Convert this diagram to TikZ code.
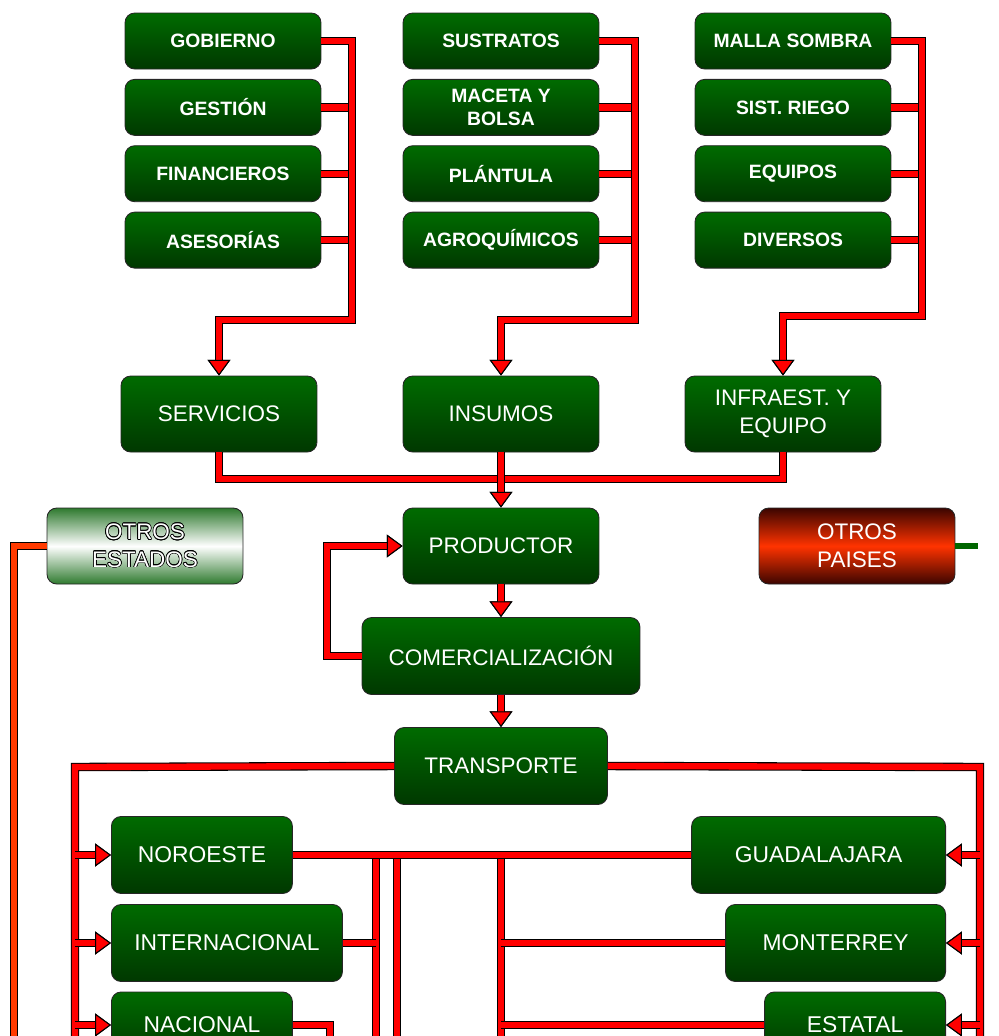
\documentclass[tikz,border=0pt]{standalone}
\usepackage{fontspec}
\setmainfont{Liberation Sans}
\usepackage[copies]{contour}
\contourlength{0.35pt}
\usetikzlibrary{arrows.meta,positioning}
\definecolor{boxtop}{HTML}{006B00}
\definecolor{boxbot}{HTML}{003800}
\definecolor{wirered}{HTML}{FF0000}
\definecolor{wireorange}{HTML}{FF3A00}
\definecolor{estgreen}{HTML}{2F7A2F}
\definecolor{paisdark}{HTML}{3C0500}
\definecolor{paismid}{HTML}{FF3300}
\definecolor{stubgreen}{HTML}{006600}

\begin{document}
\begin{tikzpicture}[
  x=0.02cm, y=-0.02cm, node distance=0.19cm,
  basebox/.style={rounded corners=5.5pt, draw=black!85, line width=0.5pt,
               top color=boxtop, bottom color=boxbot, text=white,
               align=center, inner sep=0pt},
  itembox/.style={basebox, minimum width=3.92cm, minimum height=1.12cm,
               font=\fontsize{11}{13}\selectfont\bfseries},
  mainbox/.style={basebox, minimum width=3.92cm, minimum height=1.52cm,
               font=\fontsize{12.8}{15.8}\selectfont},
  regionbox/.style={basebox, minimum width=3.62cm, minimum height=1.54cm,
               font=\fontsize{13}{15.8}\selectfont},
  lastbox/.style={regionbox, minimum height=1.32cm},
  wire/.style={draw=wirered, line width=3.6pt,
               preaction={draw=black, line width=4.8pt}},
  flow/.style={wire, -{Triangle[length=9pt, width=13pt, fill=wirered,
               color=black, line width=0.6pt]}},
]
\useasboundingbox (0,0) rectangle (999,1036);
\clip (0,0) rectangle (999,1036);

% feeder columns
\node[itembox] (gob) at (223,41) {GOBIERNO};
\node[itembox, below=of gob] (ges) {GESTIÓN};
\node[itembox, below=of ges] (fin) {FINANCIEROS};
\node[itembox, below=of fin] (ase) {ASESORÍAS};

\node[itembox] (sus) at (501,41) {SUSTRATOS};
\node[itembox, below=of sus] (mac) {MACETA Y\\BOLSA};
\node[itembox, below=of mac] (pla) {PLÁNTULA};
\node[itembox, below=of pla] (agr) {AGROQUÍMICOS};

\node[itembox] (mal) at (793,41) {MALLA SOMBRA};
\node[itembox, below=of mal] (rie) {SIST. RIEGO};
\node[itembox, below=of rie] (equ) {EQUIPOS};
\node[itembox, below=of equ] (div) {DIVERSOS};

% main chain
\node[mainbox] (serv) at (219,414) {SERVICIOS};
\node[mainbox] (ins) at (501,414) {INSUMOS};
\node[mainbox] (inf) at (783,414) {INFRAEST. Y\\EQUIPO};
\node[mainbox] (prod) at (501,546) {PRODUCTOR};
\node[mainbox, top color=estgreen, bottom color=estgreen, middle color=white]
      (oest) at (145,546) {\contour{black}{OTROS}\\\contour{black}{ESTADOS}};
\node[mainbox, top color=paisdark, bottom color=paisdark, middle color=paismid]
      (opai) at (857,546) {OTROS\\PAISES};
\node[mainbox, minimum width=5.56cm, minimum height=1.54cm] (com) at (501,656) {COMERCIALIZACIÓN};
\node[mainbox, minimum width=4.26cm, minimum height=1.54cm] (trans) at (501,766) {TRANSPORTE};

% markets
\node[regionbox, anchor=west] (nor) at (111,855) {NOROESTE};
\node[regionbox, anchor=west, minimum width=4.62cm] (int) at (111,943) {INTERNACIONAL};
\node[lastbox, anchor=west] (nac) at (111,1025) {NACIONAL};
\node[regionbox, anchor=east, minimum width=5.08cm] (gua) at (946,855) {GUADALAJARA};
\node[regionbox, anchor=east, minimum width=4.40cm] (mon) at (946,943) {MONTERREY};
\node[lastbox, anchor=east] (est) at (946,1025) {ESTATAL};

% buses
\coordinate (busS) at (352,320);
\coordinate (busI) at (635,320);
\coordinate (busE) at (922,316);
\coordinate (merge) at (501,479);
\coordinate (loopL) at (327,656);
\coordinate (westbus) at (75,767);
\coordinate (eastbus) at (980,767);
\coordinate (westend) at (75,1060);
\coordinate (eastend) at (980,1060);
\coordinate (jA) at (376,855);
\coordinate (jB) at (397,855);
\coordinate (jC) at (501,855);
\coordinate (jAend) at (376,1060);
\coordinate (jBend) at (397,1060);
\coordinate (jCend) at (501,1060);
\coordinate (nacend) at (330,1060);
\coordinate (oend) at (14,1060);
\coordinate (stubE) at (978,546);

\foreach \b in {ges,fin,ase}
  \draw[wire] (\b.east) -- (\b.east -| busS);
\foreach \b in {mac,pla,agr}
  \draw[wire] (\b.east) -- (\b.east -| busI);
\foreach \b in {rie,equ,div}
  \draw[wire] (\b.east) -- (\b.east -| busE);
\draw[flow] (gob.east) -| (busS) -| (serv.north);
\draw[flow] (sus.east) -| (busI) -| (ins.north);
\draw[flow] (mal.east) -| (busE) -| (inf.north);

\draw[wire] (serv.south) |- (merge) -| (inf.south);
\draw[flow] (ins.south) -- (prod.north);
\draw[flow] (prod.south) -- (com.north);
\draw[flow] (com.south) -- (trans.north);
\draw[flow] (com.west) -- (loopL) |- (prod.west);

\draw[wire, draw=wireorange] (oest.west) -| (oend);
\draw[draw=stubgreen, line width=3pt] (opai.east) -- (stubE);

\draw[wire] (trans.west) -- (westbus) -- (westend);
\draw[wire] (trans.east) -- (eastbus) -- (eastend);
\foreach \r in {nor,int,nac}
  \draw[flow] (\r.west -| westbus) -- (\r.west);
\foreach \r in {gua,mon,est}
  \draw[flow] (\r.east -| eastbus) -- (\r.east);

\draw[wire] (jA) -- (jAend);
\draw[wire] (jB) -- (jBend);
\draw[wire] (jC) -- (jCend);
\draw[wire] (nor.east) -- (gua.west);
\draw[wire] (int.east) -- (int.east -| jA);
\draw[wire] (nac.east) -| (nacend);
\draw[wire] (mon.west) -- (mon.west -| jC);
\draw[wire] (est.west) -- (est.west -| jC);

\end{tikzpicture}
\end{document}
